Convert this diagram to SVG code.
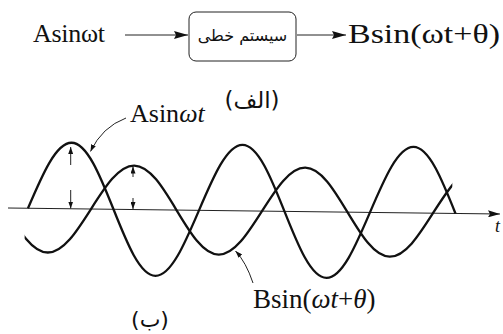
<svg xmlns="http://www.w3.org/2000/svg" width="503" height="334" viewBox="0 0 503 334">
<style>
.lbl{font-family:"Liberation Serif","Times New Roman",serif;fill:#111}
.it{font-style:italic}
.fa{font-family:"DejaVu Sans","Noto Sans",sans-serif;fill:#111}
.wave{fill:none;stroke:#111;stroke-width:2.3;stroke-linejoin:round}
.thin{fill:none;stroke:#222;stroke-width:1}
.ptr{fill:none;stroke:#222;stroke-width:1}
</style>
<defs>
<marker id="big" viewBox="0 0 14 8" refX="14" refY="4" markerWidth="14" markerHeight="8" markerUnits="userSpaceOnUse" orient="auto"><path d="M0 0 L14 4 L0 8 L2 4 Z" fill="#111"/></marker>
<marker id="sm" viewBox="0 0 7 5" refX="7" refY="2.5" markerWidth="7" markerHeight="5" markerUnits="userSpaceOnUse" orient="auto"><path d="M0 0 L7 2.5 L0 5 Z" fill="#111"/></marker>
<marker id="ax" viewBox="0 0 12 7" refX="12" refY="3.5" markerWidth="12" markerHeight="7" markerUnits="userSpaceOnUse" orient="auto"><path d="M0 0 L12 3.5 L0 7 L2 3.5 Z" fill="#111"/></marker>
<clipPath id="bclip"><rect x="17" y="-60" width="427" height="120"/></clipPath>
</defs>

<g id="input"><text class="lbl" x="33" y="42" font-size="26" textLength="72" lengthAdjust="spacing">Asinωt</text></g>
<g id="system">
<rect x="189" y="12" width="107" height="49" rx="7" class="thin"/>
<text class="fa" x="242.5" y="41" font-size="16" text-anchor="middle" direction="rtl">سیستم خطی</text>
</g>
<g id="output"><text class="lbl" x="348" y="43" font-size="27" textLength="152" lengthAdjust="spacingAndGlyphs">Bsin(ωt+θ)</text></g>
<g id="caption-a"><text class="fa" x="252" y="108" font-size="23" text-anchor="middle" direction="rtl">(الف)</text></g>

<g id="connectors">
<line x1="125" y1="35" x2="188" y2="35" class="thin" marker-end="url(#big)"/>
<line x1="297" y1="35" x2="346" y2="35" class="thin" marker-end="url(#big)"/>
</g>

<g id="graph">
<g transform="translate(8 208) rotate(0.7)">
<line x1="0" y1="0" x2="492" y2="0" class="thin" marker-end="url(#ax)"/>
<path id="waveA" class="wave" d="M 20 0 C 33.94 -33.8 47.27 -66 62.75 -66 S 91.56 -33.8 105.5 0 S 132.77 66 148.25 66 S 177.06 33.8 191 0 S 218.27 -66 233.75 -66 S 262.56 -33.8 276.5 0 S 303.77 66 319.25 66 S 348.06 33.8 362 0 S 389.27 -66 404.75 -66 S 433.56 -33.8 447.5 0"/>
<path id="waveB" class="wave" clip-path="url(#bclip)" d="M -2.5 0 C 11.44 22.53 24.77 44 40.25 44 S 69.06 22.53 83 0 S 110.27 -44 125.75 -44 S 154.56 -22.53 168.5 0 S 195.77 44 211.25 44 S 240.06 22.53 254 0 S 281.27 -44 296.75 -44 S 325.56 -22.53 339.5 0 S 366.77 44 382.25 44 S 411.06 22.53 425 0 S 452.27 -44 467.75 -44"/>
</g>
<line x1="70.7" y1="165" x2="70.7" y2="147" class="thin" marker-end="url(#sm)"/>
<line x1="70.7" y1="190" x2="70.7" y2="208.5" class="thin" marker-end="url(#sm)"/>
<line x1="133" y1="177" x2="133" y2="166.5" class="thin" marker-end="url(#sm)"/>
<line x1="133" y1="198" x2="133" y2="209" class="thin" marker-end="url(#sm)"/>
<path class="ptr" d="M 126 118 Q 102 127 90.5 151.5" marker-end="url(#sm)"/>
<path class="ptr" d="M 253 283 Q 246 262 235.5 251" marker-end="url(#sm)"/>
<text class="lbl it" x="495" y="232" font-size="18">t</text>
<text class="lbl" x="130" y="122" font-size="26">Asin<tspan class="it">ωt</tspan></text>
<text class="lbl" x="253" y="308" font-size="27">Bsin(<tspan class="it">ωt</tspan>+<tspan class="it">θ</tspan>)</text>
<text class="fa" x="150" y="327" font-size="22" text-anchor="middle" direction="rtl">(ب)</text>
</g>
</svg>
